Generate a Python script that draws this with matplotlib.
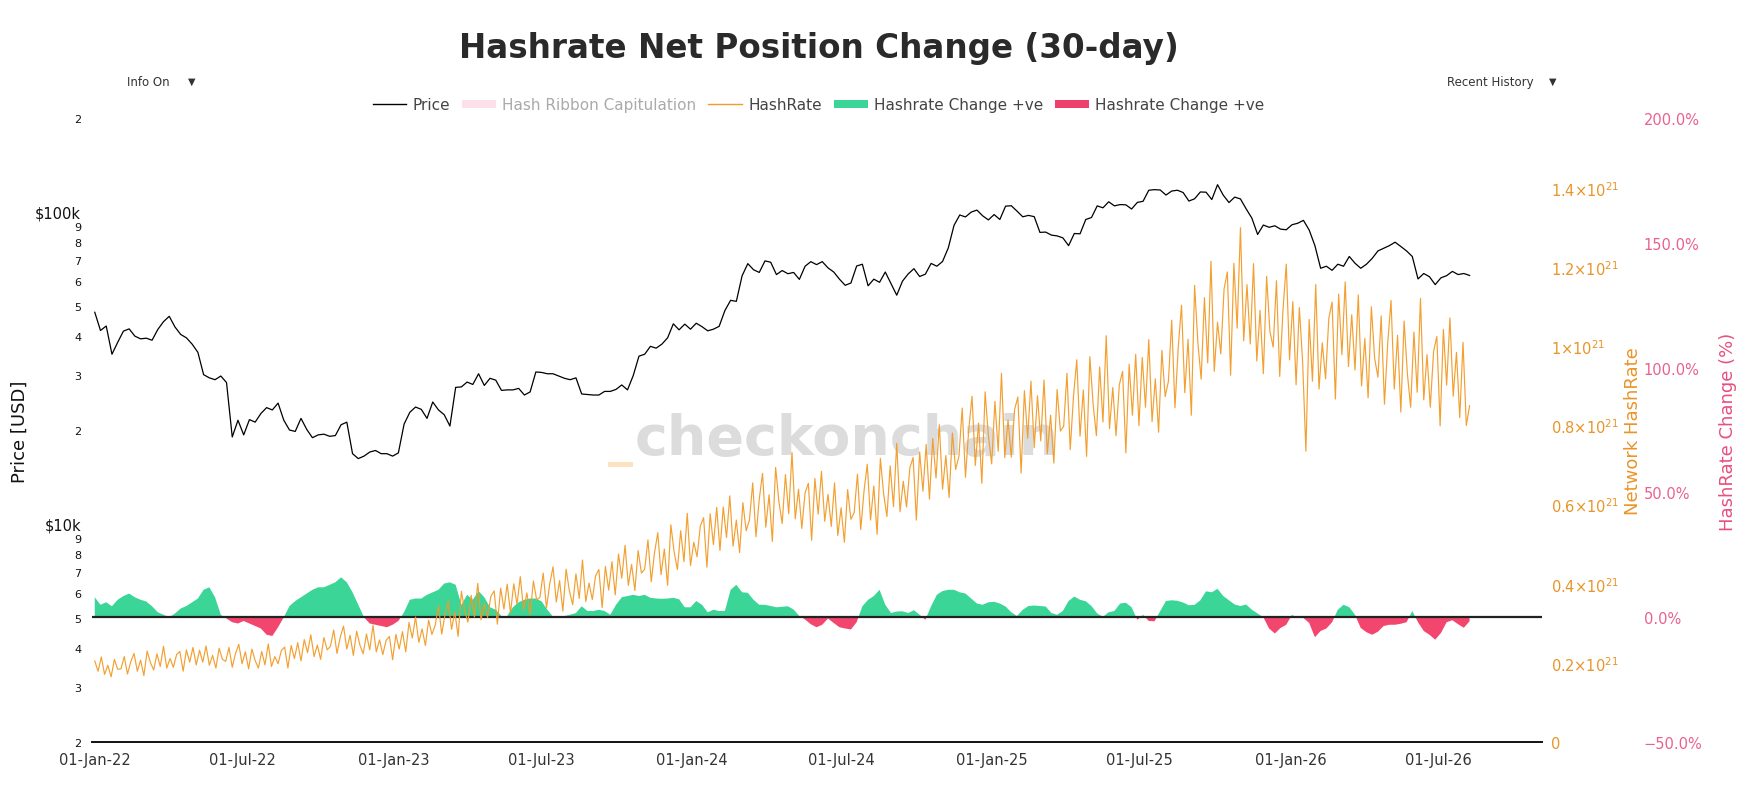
import matplotlib
matplotlib.use("Agg")
import matplotlib.pyplot as plt
import matplotlib.dates as mdates
from matplotlib.lines import Line2D
from matplotlib.patches import Patch
import numpy as np
import pandas as pd

# ---- data ----
# BTC price, weekly from 2022-01-01 (USD)
price_usd = [
    # 2022
    47700, 41700, 43100, 35000, 38200, 41500, 42200, 40000, 39200, 39400, 38800, 42000, 44500,
    46300, 42800, 40500, 39500, 37700, 35500, 30100, 29400, 29000, 29800, 28400, 19000, 21500,
    19300, 21600, 21200, 22600, 23600, 23200, 24400, 21500, 20000, 19800, 21800, 20100, 18900,
    19300, 19400, 19100, 19200, 20800, 21200, 16800, 16200, 16500, 17000, 17200, 16800, 16800, 16500,
    # 2023
    16900, 20900, 22800, 23700, 23300, 21800, 24600, 23200, 22400, 20600, 27400, 27500, 28500,
    28000, 30300, 27800, 29300, 28900, 26800, 26900, 26900, 27200, 25900, 26500, 30700, 30600,
    30300, 30300, 29800, 29300, 29000, 29400, 26100, 26000, 25900, 25900, 26600, 26600, 27000,
    27900, 26900, 29900, 34500, 35000, 37100, 36600, 37700, 39500, 43800, 41900, 43700, 42100,
    # 2024
    44000, 42900, 41600, 42100, 43000, 48300, 52100, 51700, 62400, 68300, 65300, 64000, 69700,
    69000, 63000, 64900, 63400, 64000, 60800, 67000, 69300, 67800, 69300, 66200, 64200, 60900,
    58200, 59200, 67100, 68000, 58000, 60900, 59500, 64200, 58900, 54100, 60000, 63300, 65800,
    62100, 63200, 68400, 67000, 69400, 76700, 90600, 97800, 96400, 99900, 101400, 97200, 94300,
    # 2025
    98100, 94600, 104400, 104700, 100600, 96500, 97500, 96600, 86000, 86200, 84300, 83800, 82600,
    78000, 85300, 85100, 94600, 96000, 104600, 103100, 107800, 104600, 105600, 105400, 102200, 107300,
    108200, 117400, 117900, 117600, 113300, 116700, 117400, 115400, 108400, 110200, 115900, 115700, 109600,
    122300, 113200, 107200, 111600, 110100, 102300, 95500, 84700, 90800, 89300, 90300, 88100, 87700,
    # 2026
    91000, 92000, 94000, 87500, 78000, 66000, 67000, 65000, 68000, 67000, 72000, 68500, 66000,
    68000, 71000, 75000, 76500, 78000, 80000, 77500, 75000, 72000, 61000, 63500, 62000, 58500,
    61500, 62500, 64500, 63000, 63500, 62600,
]

# network hashrate, every 4 days from 2022-01-01 (EH/s)
hashrate_ehs = [
    205, 179, 215, 171, 194, 165, 209, 184,
    185, 216, 172, 203, 224, 179, 207, 168,
    230, 201, 182, 223, 191, 242, 187, 211,
    189, 221, 229, 179, 233, 202, 239, 195,
    232, 202, 243, 194, 219, 187, 237, 209,
    204, 239, 189, 224, 247, 198, 228, 185,
    235, 206, 187, 229, 195, 248, 191, 216,
    198, 231, 240, 187, 244, 211, 251, 205,
    259, 226, 271, 216, 245, 209, 264, 233,
    242, 283, 224, 265, 293, 235, 270, 219,
    280, 245, 223, 273, 233, 295, 228, 258,
    221, 257, 267, 208, 272, 235, 279, 228,
    302, 263, 316, 252, 286, 244, 308, 272,
    295, 344, 273, 322, 357, 285, 329, 267,
    381, 333, 303, 371, 316, 401, 309, 350,
    315, 368, 382, 298, 389, 336, 399, 326,
    400, 348, 418, 333, 377, 322, 407, 359,
    366, 427, 339, 400, 443, 354, 408, 331,
    437, 382, 347, 425, 363, 460, 355, 402,
    360, 420, 436, 340, 444, 384, 456, 372,
    475, 414, 497, 396, 449, 383, 484, 427,
    437, 511, 405, 478, 529, 423, 488, 396,
    549, 480, 436, 534, 456, 578, 446, 505,
    468, 546, 567, 442, 577, 499, 593, 484,
    594, 517, 622, 495, 561, 479, 605, 534,
    561, 655, 519, 614, 679, 543, 625, 507,
    694, 608, 552, 676, 577, 732, 564, 639,
    540, 630, 654, 510, 666, 576, 684, 558,
    626, 545, 655, 522, 592, 505, 638, 563,
    580, 677, 537, 634, 702, 561, 647, 525,
    717, 627, 570, 698, 595, 755, 582, 659,
    594, 693, 719, 561, 733, 634, 752, 614,
    767, 667, 802, 639, 724, 618, 781, 689,
    722, 844, 669, 790, 874, 699, 806, 654,
    885, 774, 703, 861, 735, 932, 719, 814,
    720, 840, 872, 680, 888, 768, 912, 744,
    875, 761, 915, 729, 826, 705, 891, 786,
    798, 932, 739, 874, 966, 773, 890, 722,
    974, 853, 774, 948, 809, 1027, 792, 896,
    774, 903, 937, 731, 955, 826, 980, 800,
    972, 846, 1017, 810, 918, 783, 990, 873,
    912, 1066, 845, 998, 1104, 883, 1018, 826,
    1154, 1009, 917, 1123, 958, 1215, 937, 1061,
    981, 1145, 1188, 927, 1210, 1046, 1300, 1014,
    1156, 1006, 1209, 963, 1091, 931, 1177, 1038,
    998, 1166, 924, 1092, 1208, 966, 1113, 903,
    1098, 960, 735, 1068, 912, 1156, 892, 1009,
    918, 1071, 1112, 867, 1132, 979, 1163, 949,
    1080, 940, 1130, 900, 1020, 870, 1100, 970,
    922, 1077, 854, 1009, 1116, 892, 1028, 834,
    1064, 931, 846, 1036, 884, 1121, 865, 979,
    846, 987, 1025, 799, 1043, 902, 1072, 874,
    985, 820, 1010, 800, 850,
]

# 30-day hashrate change, weekly from 2022-01-01 (%)
hash_change_pct = [
    8.0, 5, 6, 4.4, 7, 8.5, 9.5, 8, 7, 6.3, 4.4, 2, 1, 0, 1.5, 3.5, 4.5, 6, 7.5, 11, 12, 8, 1,
    -0.5, -2, -2.5, -1.5, -2.5, -3.5, -4.5, -7, -7.5, -4, 0, 4.5, 6.5, 8, 9.5, 11, 12, 12, 13,
    14, 16, 14, 10, 5, 0, -2.5, -3, -3.5, -4, -3, -1.5, 2, 7, 7.5, 7.5, 9, 10, 11, 13.5,
    14, 13, 5, 9, 7, 10.5, 8, 4, 3, 0.5, 0.5, 4, 6, 7, 7.5, 7.5, 6.4, 3, 0.2, 0.3, 0.5, 1,
    1.7, 4.4, 2.5, 2.5, 3, 2.5, 1, 5, 8, 8.5, 9, 8.5, 9, 7.8, 7.5, 7.4, 7.5, 7.8, 7.2, 4, 4,
    6.5, 5, 2, 3, 2.5, 2.5, 11, 13, 10, 9.8, 7, 5, 5, 4.5, 4, 4.2, 4.4, 3.1,
    0.5, -0.9, -2.8, -4, -3, -0.5, -2.3, -4, -4.5, -4.9, -2, 4.4, 7, 8.5, 11, 5, 1.7, 2.3,
    2.4, 1.7, 2.8, 1, -1, 4.4, 9, 10.5, 11, 11, 10, 9.5, 7.5, 5.5, 5, 6, 6.2, 5.5, 4.3, 2,
    0.5, 3, 4.5, 4.7, 4.5, 4.3, 1.7, 1, 2.5, 6.5, 8.3, 7, 6.4, 4.5, 1.5, 0.2, 2, 2.5, 5.5,
    5.8, 4, -1, 1,
    -1.5, -1.6, 2.5, 6.5, 6.8, 6.6, 5.9, 4.8, 5, 6.8, 10.4, 10, 11.4, 8.5, 6.8, 5.1, 4.5,
    5.1, 3, 1.5, 0, -4.5, -6.5, -4.3, -3, 1, -0.3, -0.3, -2.3, -8, -5.5, -4.5, -2, 3, 5, 4,
    1, -4.3, -6, -7, -5.8, -3.5, -3, -3, -2.6, -2, 2.5, -2, -5.5, -7, -9, -6.3, -2, -1.2,
    -2.8, -4.2, -1.6,
]

price_dates = pd.date_range("2022-01-01", periods=len(price_usd), freq="7D")
hash_dates = pd.date_range("2022-01-01", periods=len(hashrate_ehs), freq="4D")
change_dates = pd.date_range("2022-01-01", periods=len(hash_change_pct), freq="7D")

price = np.array(price_usd, dtype=float)
hashrate = np.array(hashrate_ehs, dtype=float) * 1e18
change = np.array(hash_change_pct, dtype=float)

# ---- colours ----
GREEN = "#3bd597"
RED = "#f2466f"
ORANGE = "#f29b26"
PINK_TXT = "#e8628f"
TXT = "#444444"

fig = plt.figure(figsize=(17.45, 8.12), dpi=100)
ax = fig.add_axes([0.0529, 0.0849, 0.8310, 0.7685])
ax_pct = ax.twinx()
ax_hr = ax.twinx()

ax_pct.set_zorder(1)
ax_hr.set_zorder(2)
ax.set_zorder(3)
for a in (ax, ax_pct, ax_hr):
    a.patch.set_visible(False)
    for s in a.spines.values():
        s.set_visible(False)

# hashrate change areas
ax_pct.fill_between(change_dates, change, 0, where=change >= 0, interpolate=True,
                    color=GREEN, lw=0)
ax_pct.fill_between(change_dates, change, 0, where=change <= 0, interpolate=True,
                    color=RED, lw=0)
ax_pct.axhline(0, color="#222222", lw=1.6)
ax_pct.set_ylim(-50, 200)
ax_pct.spines["right"].set_position(("axes", 1.066))
pct_ticks = [-50, 0, 50, 100, 150, 200]
ax_pct.set_yticks(pct_ticks)
ax_pct.set_yticklabels([f"{t:.1f}%".replace("-", "\u2212") for t in pct_ticks])
ax_pct.tick_params(axis="y", length=0, pad=4, labelsize=10.5, labelcolor=PINK_TXT)

# hashrate line
ax_hr.plot(hash_dates, hashrate, color=ORANGE, lw=0.85, alpha=0.95)
ax_hr.set_ylim(0, 1.577e21)
hr_ticks = [0, 0.2e21, 0.4e21, 0.6e21, 0.8e21, 1.0e21, 1.2e21, 1.4e21]
hr_labels = ["0", r"0.2$\times10^{21}$", r"0.4$\times10^{21}$", r"0.6$\times10^{21}$",
             r"0.8$\times10^{21}$", r"1$\times10^{21}$", r"1.2$\times10^{21}$",
             r"1.4$\times10^{21}$"]
ax_hr.set_yticks(hr_ticks)
ax_hr.set_yticklabels(hr_labels)
ax_hr.tick_params(axis="y", length=0, pad=6, labelsize=10.5, labelcolor="#e8952a")

# price line
ax.plot(price_dates, price, color="black", lw=0.9)
ax.set_yscale("log")
ax.set_ylim(2000, 200000)
ax.minorticks_off()
p_ticks = [2000, 3000, 4000, 5000, 6000, 7000, 8000, 9000, 10000,
           20000, 30000, 40000, 50000, 60000, 70000, 80000, 90000, 100000, 200000]
p_labels = []
for t in p_ticks:
    if t == 10000:
        p_labels.append("$10k")
    elif t == 100000:
        p_labels.append("$100k")
    else:
        p_labels.append(str(t)[0])
ax.set_yticks(p_ticks)
ax.set_yticklabels(p_labels)
ax.yaxis.set_minor_locator(matplotlib.ticker.NullLocator())
for lab in ax.get_yticklabels():
    lab.set_fontsize(10.5 if lab.get_text().startswith("$") else 8)
    lab.set_color("#111111")
ax.tick_params(axis="y", length=0, pad=8)

# x axis
ax.spines["bottom"].set_visible(True)
ax.spines["bottom"].set_color("#111111")
ax.spines["bottom"].set_linewidth(1.4)
ax.set_xlim(pd.Timestamp("2021-12-29"), pd.Timestamp("2026-11-05"))
ax.xaxis.set_major_locator(mdates.MonthLocator(bymonth=[1, 7]))
ax.xaxis.set_major_formatter(mdates.DateFormatter("%d-%b-%y"))
ax.tick_params(axis="x", length=0, pad=7, labelsize=10.5, labelcolor="#333333")

# axis titles
fig.text(0.0115, 0.4685, "Price [USD]", rotation=90, ha="center", va="center",
         fontsize=13, color="#111111")
fig.text(0.936, 0.4685, "Network HashRate", rotation=90, ha="center", va="center",
         fontsize=13, color="#e8952a")
fig.text(0.990, 0.4685, "HashRate Change (%)", rotation=90, ha="center", va="center",
         fontsize=13, color="#e8507e")

# title and menus
fig.text(0.469, 0.940, "Hashrate Net Position Change (30-day)", ha="center", va="center",
         fontsize=23.5, fontweight="bold", color="#2a2a2a")
fig.text(0.073, 0.899, "Info On", ha="left", va="center", fontsize=8.5, color="#333333")
fig.text(0.110, 0.899, "\u25bc", ha="center", va="center", fontsize=7, color="#333333")
fig.text(0.829, 0.899, "Recent History", ha="left", va="center", fontsize=8.5, color="#333333")
fig.text(0.890, 0.899, "\u25bc", ha="center", va="center", fontsize=7, color="#333333")

# watermark
fig.text(0.3635, 0.4400, "checkonchain", ha="left", va="baseline", fontsize=40,
         fontweight="bold", color="#dcdcdc", zorder=0.5)
fig.text(0.3625, 0.4400, "_", ha="right", va="baseline", fontsize=36,
         fontweight="bold", color="#fbe2c0", zorder=0.5)

# legend
handles = [
    Line2D([0], [0], color="black", lw=1),
    Patch(facecolor="#fde0ea", edgecolor="none"),
    Line2D([0], [0], color=ORANGE, lw=1),
    Patch(facecolor=GREEN, edgecolor="none"),
    Patch(facecolor="#ef3f6b", edgecolor="none"),
]
labels = ["Price", "Hash Ribbon Capitulation", "HashRate", "Hashrate Change +ve",
          "Hashrate Change +ve"]
leg = fig.legend(handles, labels, loc="center", bbox_to_anchor=(0.469, 0.870), ncol=5,
                 frameon=False, fontsize=11, handlelength=2.2, handleheight=0.45,
                 handletextpad=0.4, columnspacing=0.8)
for txt in leg.get_texts():
    txt.set_color("#aaaaaa" if txt.get_text().startswith("Hash Ribbon") else TXT)

fig.savefig("out.png", dpi=100)
